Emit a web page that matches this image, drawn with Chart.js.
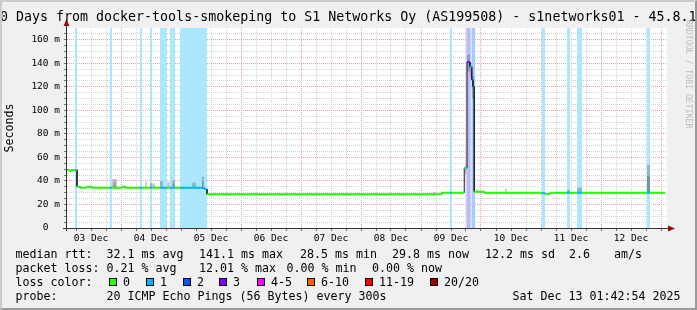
<!DOCTYPE html>
<html>
<head>
<meta charset="utf-8">
<script src="https://cdn.jsdelivr.net/npm/chart.js@4"></script>
<style>
  html, body { margin: 0; padding: 0; }
  #wrap { position: relative; width: 697px; height: 310px; background: #f0f0f0; overflow: hidden; }
  #chart { position: absolute; left: 0; top: 0; }
  #frame { position: absolute; left: 0; top: 0; width: 697px; height: 310px; box-sizing: border-box;
           border-style: solid; border-width: 2px; border-color: #cbcbcb #999 #999 #cbcbcb; pointer-events: none; }
  .t { position: absolute; font-family: "DejaVu Sans Mono", monospace; font-size: 11.63px; line-height: 14px;
       white-space: pre; color: #000; }
  .sq { position: absolute; width: 6px; height: 6px; border: 1px solid #000; top: 278px; }
  #title { left: -8px; top: 9px; font-size: 13.3px; line-height: 16px; }
  #mark { left: 684px; top: 20px; font-size: 8.2px; line-height: 10px; color: #bdbdbd; writing-mode: vertical-rl; }
</style>
</head>
<body>
<div id="wrap">
  <canvas id="chart" width="697" height="310"></canvas>
  <div class="t" id="title">10 Days from docker-tools-smokeping to S1 Networks Oy (AS199508) - s1networks01 - 45.8.1</div>
  <div class="t" id="mark">RRDTOOL / TOBI OETIKER</div>
  <div id="legend"></div>
  <div id="frame"></div>
</div>
<script>
// x values are hours since 03 Dec 00:00
const dayLabels = ["03 Dec", "04 Dec", "05 Dec", "06 Dec", "07 Dec", "08 Dec", "09 Dec", "10 Dec", "11 Dec", "12 Dec"];
const yTickLabels = ["0  ", "20 m", "40 m", "60 m", "80 m", "100 m", "120 m", "140 m", "160 m"];

const lossLabels = ["0", "1", "2", "3", "4-5", "6-10", "11-19", "20/20"];
const lossColors = ["#26ff00", "#00b8ff", "#0059ff", "#7e00ff", "#ff00ff", "#ff5e00", "#ff0000", "#a10000"];

// median rtt, one step per segment (start hour, ms, lost pings)
const medStart = [2.4, 3.4, 4.2, 5.6, 6.4, 7.6, 10.4, 12.4, 19.6, 20.4, 24.4, 25.6, 31.6, 32.4, 35.6, 36.4,
  39.6, 42.4, 43.6, 45.6, 47.6, 57.2, 58.4, 152.3, 155.6, 156.4, 161.3, 161.9, 162.4, 163.6, 164.3, 164.8,
  165.3, 169.2, 192.4, 193.6, 195.6, 202.4, 203.6, 206.4, 208.4, 234.4, 235.6];
const medMs = [49.4, 48.5, 49.4, 49.4, 35.1, 34.3, 35.1, 34.3, 34.3, 34.3, 35.1, 34.3, 34.3, 34.3, 34.3, 34.3,
  34.3, 34.3, 34.3, 34.3, 34.3, 33.2, 28.7, 30.0, 30.0, 30.0, 51.0, 51.0, 141.0, 137.0, 126.0, 120.0,
  30.9, 30.0, 29.5, 29.0, 30.0, 30.0, 30.0, 30.0, 30.0, 30.0, 30.0];
const medLoss = [0, 0, 0, 1, 0, 0, 0, 0, 1, 0, 0, 0, 1, 0, 1, 0,
  1, 0, 1, 0, 1, 1, 0, 0, 1, 0, 0, 1, 3, 1, 2, 2,
  0, 0, 1, 0, 0, 1, 0, 1, 0, 1, 0];
const medEnd = 241.6;

// packet loss periods
const bandStart = [5.6, 19.6, 31.6, 35.6, 39.6, 43.6, 47.6, 155.6, 161.9, 162.4, 163.6, 164.3, 192.4, 202.4, 206.4, 234.4];
const bandEnd = [6.4, 20.4, 32.4, 36.4, 42.4, 45.6, 58.4, 156.4, 162.4, 163.6, 164.3, 165.6, 193.6, 203.6, 208.4, 235.6];
const bandLoss = [1, 1, 1, 1, 1, 1, 1, 1, 1, 3, 1, 2, 1, 1, 1, 1];

// smoke (spread of the 20 pings)
const smokeStart = [20.4, 20.8, 33.6, 35.6, 39.6, 42.3, 44.3, 44.6, 52.3, 56.3, 56.4, 148.8, 161.6, 162.4, 163.6, 164.3, 166.0, 177.6, 202.4, 206.4, 234.4, 234.4];
const smokeEnd = [22.4, 22.0, 34.4, 37.6, 40.8, 43.6, 45.6, 45.2, 54.0, 57.2, 57.0, 149.6, 162.2, 163.6, 164.3, 165.2, 166.8, 178.4, 203.6, 208.4, 235.6, 235.6];
const smokeLow = [34.3, 35.0, 34.3, 34.3, 34.3, 34.3, 34.3, 34.3, 34.3, 33.2, 34.0, 28.7, 46.0, 133.0, 128.0, 110.0, 30.9, 30.0, 30.0, 30.0, 30.0, 30.0];
const smokeHigh = [41.7, 39.0, 39.4, 38.0, 40.0, 39.1, 40.3, 37.5, 38.6, 43.7, 40.0, 30.8, 54.0, 147.0, 140.0, 129.0, 33.0, 33.2, 32.3, 34.3, 53.6, 44.0];

const Y_MAX = 170;
const MONO = "'DejaVu Sans Mono', monospace";
const RED_GRID = "#e8a4a4";
const GRAY_GRID = "#d4d4d4";

const blend = (hex, a) => {
  const n = parseInt(hex.slice(1), 16);
  const c = [n >> 16, (n >> 8) & 255, n & 255].map((v) => Math.round(255 - a * (255 - v)));
  return `rgb(${c[0]},${c[1]},${c[2]})`;
};

let datasets = [];

bandStart.forEach((s, i) => {
  datasets.push({
    data: [{ x: s, y: Y_MAX }, { x: bandEnd[i], y: Y_MAX }],
    backgroundColor: blend(lossColors[bandLoss[i]], 0.33),
    borderColor: "transparent",
    fill: "origin",
    order: 4,
  });
});

smokeStart.forEach((s, i) => {
  datasets.push({
    data: [{ x: s, y: smokeHigh[i] }, { x: smokeEnd[i], y: smokeHigh[i] }],
    backgroundColor: "rgba(0,0,0,0.2)",
    borderColor: "transparent",
    fill: { value: smokeLow[i] },
    order: 3,
  });
});

const segEnd = (i) => (i + 1 < medStart.length ? medStart[i + 1] : medEnd);

let medPts = [];
medStart.forEach((s, i) => {
  medPts.push({ x: s, y: medMs[i] }, { x: segEnd(i), y: medMs[i] });
});
datasets.push({ data: medPts, borderColor: "#202020", borderWidth: 1, fill: false, order: 2 });

lossColors.forEach((color, loss) => {
  let pts = [];
  medStart.forEach((s, i) => {
    if (medLoss[i] !== loss) return;
    pts.push({ x: s, y: medMs[i] }, { x: segEnd(i), y: medMs[i] }, { x: segEnd(i), y: null });
  });
  if (pts.length) datasets.push({ data: pts, borderColor: color, borderWidth: 2, fill: false, order: 1 });
});

const framePlugin = {
  id: "frame",
  beforeDraw(chart) {
    const { ctx, chartArea: a } = chart;
    ctx.save();
    ctx.fillStyle = "#fff";
    ctx.fillRect(a.left, a.top, a.right - a.left, a.bottom - a.top);
    ctx.restore();
  },
  afterDraw(chart) {
    const { ctx, chartArea: a } = chart;
    ctx.save();
    ctx.strokeStyle = "#333";
    ctx.lineWidth = 1;
    ctx.beginPath();
    ctx.moveTo(a.left - 0.5, a.bottom + 3);
    ctx.lineTo(a.left - 0.5, a.top - 4);
    ctx.moveTo(a.left - 4, a.bottom + 0.5);
    ctx.lineTo(a.right + 2, a.bottom + 0.5);
    ctx.stroke();
    ctx.fillStyle = "#901010";
    ctx.beginPath();
    ctx.moveTo(a.left - 0.5, a.top - 9);
    ctx.lineTo(a.left - 3.5, a.top - 2);
    ctx.lineTo(a.left + 2.5, a.top - 2);
    ctx.fill();
    ctx.beginPath();
    ctx.moveTo(a.right + 8, a.bottom + 0.5);
    ctx.lineTo(a.right + 1, a.bottom - 2.5);
    ctx.lineTo(a.right + 1, a.bottom + 3.5);
    ctx.fill();
    ctx.restore();
  },
};

const chart = new Chart(document.getElementById("chart").getContext("2d"), {
  type: "line",
  data: { datasets: datasets },
  options: {
    responsive: false,
    devicePixelRatio: 1,
    animation: false,
    events: [],
    layout: { padding: { top: 28, right: 30, bottom: 62, left: 0 } },
    elements: { point: { radius: 0 }, line: { tension: 0 } },
    plugins: { legend: { display: false }, tooltip: { enabled: false } },
    scales: {
      x: {
        type: "linear",
        min: 2.4,
        max: 242.4,
        afterBuildTicks: (s) => {
          s.ticks = [];
          for (let h = 6; h <= 240; h += 6) s.ticks.push({ value: h });
        },
        afterFit: (s) => { s.height = 20; },
        ticks: {
          autoSkip: false,
          maxRotation: 0,
          padding: 2,
          color: "#000",
          font: { family: MONO, size: 9.5 },
          callback: (v) => (v % 24 === 12 ? dayLabels[(v - 12) / 24] : ""),
        },
        grid: {
          color: (c) => (c.tick && c.tick.value % 24 === 0 ? RED_GRID : GRAY_GRID),
          tickLength: 3,
          tickColor: "#777",
        },
        border: { display: false, dash: [1, 1] },
      },
      y: {
        min: 0,
        max: Y_MAX,
        afterBuildTicks: (s) => {
          s.ticks = [];
          for (let v = 0; v <= 165; v += 5) s.ticks.push({ value: v });
        },
        afterFit: (s) => { s.width = 67; },
        ticks: {
          autoSkip: false,
          padding: 4,
          color: "#000",
          font: { family: MONO, size: 9.5 },
          callback: (v) => (v % 20 === 0 ? yTickLabels[v / 20] : ""),
        },
        grid: {
          color: (c) => (c.tick && c.tick.value % 20 === 0 ? RED_GRID : GRAY_GRID),
          tickLength: 3,
          tickColor: "#777",
        },
        border: { display: false, dash: [1, 1] },
        title: {
          display: true,
          text: "Seconds",
          color: "#000",
          font: { family: MONO, size: 11.63 },
          padding: { top: 3, bottom: 0 },
        },
      },
    },
  },
  plugins: [framePlugin],
});

// legend text under the chart
const legendItems = [
  ["median rtt:", 15.5, 247], ["32.1 ms avg", 106.5, 247], ["141.1 ms max", 199, 247], ["28.5 ms min", 300, 247],
  ["29.8 ms now", 392, 247], ["12.2 ms sd", 485, 247], ["2.6", 569, 247], ["am/s", 614, 247],
  ["packet loss:", 15.5, 261], ["0.21 % avg", 106.5, 261], ["12.01 % max", 199, 261], ["0.00 % min", 286.5, 261],
  ["0.00 % now", 372, 261],
  ["loss color:", 15.5, 275],
  ["probe:", 15.5, 289], ["20 ICMP Echo Pings (56 Bytes) every 300s", 106.5, 289], ["Sat Dec 13 01:42:54 2025", 512.5, 289],
];
const squareX = [109, 146, 183, 219, 257, 307, 365, 430];

const legend = document.getElementById("legend");
legendItems.forEach(([text, x, y]) => {
  const el = document.createElement("div");
  el.className = "t";
  el.style.left = x + "px";
  el.style.top = y + "px";
  el.textContent = text;
  legend.appendChild(el);
});
lossLabels.forEach((label, i) => {
  const sq = document.createElement("div");
  sq.className = "sq";
  sq.style.left = squareX[i] + "px";
  sq.style.background = lossColors[i];
  legend.appendChild(sq);
  const el = document.createElement("div");
  el.className = "t";
  el.style.left = squareX[i] + 14 + "px";
  el.style.top = "275px";
  el.textContent = label;
  legend.appendChild(el);
});
</script>
</body>
</html>
